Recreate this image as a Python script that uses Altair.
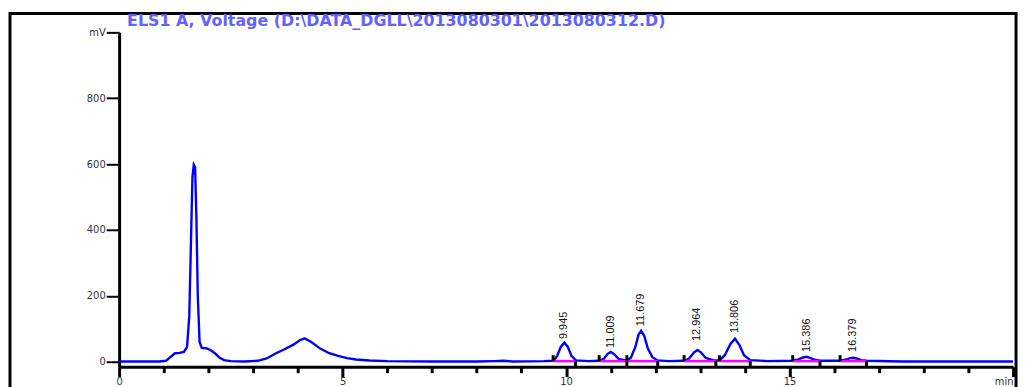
import altair as alt
import pandas as pd

# ---- data ----
sig_t = [0.0, 0.5, 0.9, 1.05, 1.15, 1.25, 1.35, 1.45, 1.52, 1.57, 1.61, 1.64, 1.67, 1.70, 1.73, 1.76,
         1.80, 1.85, 1.95, 2.05, 2.15, 2.25, 2.35, 2.5, 2.8, 3.1, 3.3, 3.5, 3.7, 3.9, 4.05, 4.15,
         4.3, 4.5, 4.7, 4.9, 5.1, 5.3, 5.6, 6.0, 7.0, 8.0, 8.4, 8.6, 8.8, 9.5, 9.72, 9.8, 9.88,
         9.96, 10.04, 10.12, 10.22, 10.5, 10.74, 10.85, 10.93, 11.0, 11.08, 11.18, 11.36, 11.45,
         11.55, 11.62, 11.68, 11.75, 11.83, 11.93, 12.05, 12.3, 12.64, 12.75, 12.86, 12.94, 13.02,
         13.12, 13.3, 13.43, 13.55, 13.68, 13.78, 13.88, 13.98, 14.12, 14.5, 15.07, 15.2, 15.3,
         15.38, 15.46, 15.56, 15.68, 16.13, 16.25, 16.35, 16.42, 16.5, 16.6, 16.72, 17.5, 18.5, 20.0]
sig_mv = [1, 1, 1, 3, 15, 26, 27, 30, 45, 140, 380, 560, 598, 590, 430, 200,
          60, 42, 41, 35, 25, 12, 5, 2, 1, 3, 10, 25, 38, 52, 66, 71,
          60, 40, 26, 18, 11, 7, 4, 2, 1, 1, 2, 3, 1, 2, 3, 18, 45,
          58, 45, 18, 4, 2, 3, 10, 24, 30, 22, 8, 4, 12,
          45, 82, 94, 78, 40, 14, 4, 2, 3, 10, 28, 36, 28,
          12, 4, 4, 20, 55, 70, 50, 20, 5, 2, 3, 7, 13,
          15, 12, 6, 3, 3, 6, 11, 12, 10, 5, 3, 1, 1, 1]

peak_t = [9.96, 11.0, 11.68, 12.94, 13.78, 15.38, 16.42]
peak_label = ["9.945", "11.009", "11.679", "12.964", "13.806", "15.386", "16.379"]
label_base = [69, 42, 108, 63, 87, 30, 30]

int_start = [9.71, 10.74, 11.36, 12.64, 13.43, 15.07, 16.13]
int_end = [10.21, 11.36, 12.05, 13.35, 14.12, 15.68, 16.72]
int_level = [2, 2, 2, 2, 2, 2, 2]

title_text = "ELS1 A, Voltage (D:\\DATA_DGLL\\2013080301\\2013080312.D)"

x_ticks = list(range(0, 21))
y_ticks = list(range(0, 1001, 50))

# ---- tables ----
sig = pd.DataFrame({"t": sig_t, "v": sig_mv})
peaks = pd.DataFrame({"t": peak_t, "lab": peak_label, "lb": label_base})
integ = pd.DataFrame({"t0": int_start, "t1": int_end, "lv": int_level})
integ["up"] = [l + 18 for l in int_level]
integ["dn"] = [l - 17 for l in int_level]

XD = [0, 20]
YD = [-15, 1000]
xs = alt.Scale(domain=XD, nice=False, zero=False)
ys = alt.Scale(domain=YD, nice=False, zero=False)

line = alt.Chart(sig).mark_line(color="#0000ff", strokeWidth=2.4, clip=True).encode(
    x=alt.X("t:Q", scale=xs, axis=alt.Axis(
        title=None, values=x_ticks, grid=False,
        labelExpr="datum.value === 20 ? 'min' : (datum.value % 5 === 0 ? datum.label : '')",
        labelAlign={"condition": {"test": "datum.value === 20", "value": "right"}, "value": "center"},
        labelOverlap=False, labelPadding=0, labelFontSize=10, labelFont="DejaVu Sans",
        labelColor="#333333",
        tickSize={"condition": {"test": "datum.value % 5 === 0", "value": 10}, "value": 6},
        tickWidth=3, tickColor="black", domainColor="black", domainWidth=3)),
    y=alt.Y("v:Q", scale=ys, axis=alt.Axis(
        title=None, values=y_ticks, grid=False,
        labelExpr="datum.value === 1000 ? 'mV' : (datum.value % 200 === 0 ? datum.label : '')",
        labelOverlap=False, labelPadding=1, labelFontSize=10, labelFont="DejaVu Sans",
        labelColor="#333333",
        tickSize={"condition": {"test": "datum.value % 200 === 0", "value": 13}, "value": 6},
        tickWidth=2, tickColor="black", domainColor="black", domainWidth=3)),
)

seg = alt.Chart(integ).mark_rule(color="#ff00ff", strokeWidth=2.5).encode(
    x=alt.X("t0:Q", scale=xs), x2="t1:Q", y=alt.Y("lv:Q", scale=ys))

mk_start = alt.Chart(integ).mark_rule(color="black", strokeWidth=3).encode(
    x=alt.X("t0:Q", scale=xs), y=alt.Y("lv:Q", scale=ys), y2="up:Q")
mk_end = alt.Chart(integ).mark_rule(color="black", strokeWidth=3).encode(
    x=alt.X("t1:Q", scale=xs), y=alt.Y("lv:Q", scale=ys), y2="dn:Q")

labels = alt.Chart(peaks).mark_text(angle=270, align="left", baseline="middle",
                                    fontSize=11, font="Liberation Sans", color="#111111").encode(
    x=alt.X("t:Q", scale=xs), y=alt.Y("lb:Q", scale=ys), text="lab:N")

one = pd.DataFrame({"s": [title_text]})
frame = alt.Chart(one).mark_rect(fillOpacity=0, stroke="black", strokeWidth=3).encode(
    x=alt.value(-110), x2=alt.value(904), y=alt.value(-19), y2=alt.value(420))
title = alt.Chart(one).mark_text(align="left", baseline="middle", fontSize=16,
                                 font="DejaVu Sans", fontWeight="bold", color="#6262ff").encode(
    x=alt.value(8), y=alt.value(-11), text="s:N")

chart = alt.layer(line, seg, mk_start, mk_end, labels, frame, title).properties(
    width=901, height=337,
    autosize=alt.AutoSizeParams(type="none"),
    padding={"left": 112, "top": 23, "right": 8, "bottom": 30},
).configure_view(strokeWidth=0).configure_axis(grid=False)

chart.save("out.html", embed_options={"renderer": "svg", "actions": False})
